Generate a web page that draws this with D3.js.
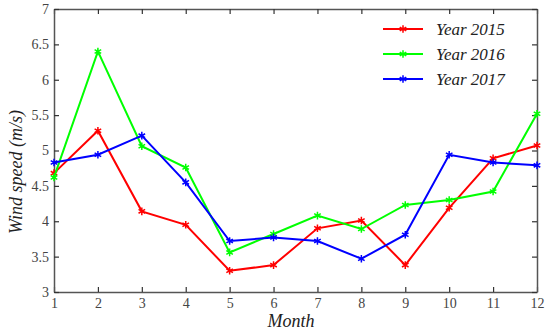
<!DOCTYPE html>
<head>
  <meta charset="utf-8">
  <script src="https://d3js.org/d3.v7.min.js"></script>
  <style>
    body { margin:0; background:#fff; }
    .tick text { font-family: "Liberation Serif", "Times New Roman", Times, "DejaVu Serif", serif; font-size:14px; fill:#444; }
    .lbl { font-family: "Liberation Serif", "Times New Roman", Times, "DejaVu Serif", serif; font-style:italic; fill:#222; }
  </style>
</head>
<body>
<script>
  // data
  var months = [1,2,3,4,5,6,7,8,9,10,11,12];
  var y2015 = [4.68,5.28,4.14,3.95,3.30,3.38,3.90,4.01,3.38,4.19,4.89,5.07];
  var y2016 = [4.62,6.40,5.06,4.76,3.56,3.82,4.08,3.89,4.23,4.30,4.42,5.52];
  var y2017 = [4.83,4.94,5.21,4.55,3.72,3.77,3.72,3.47,3.81,4.94,4.83,4.79];
  var names = ["Year 2015","Year 2016","Year 2017"];
  var colors = ["#ff0000","#00ff00","#0000ff"];
  var yTicks = [3,3.5,4,4.5,5,5.5,6,6.5,7];

  var series = [y2015, y2016, y2017];

  var margin = {top: 9, right: 13, bottom: 42, left: 54};
  var W = 550, H = 334;
  var width = W - margin.left - margin.right,
      height = H - margin.top - margin.bottom;

  var svg = d3.select("body").append("svg")
    .attr("width", W).attr("height", H)
   .append("g")
    .attr("transform", "translate(" + margin.left + "," + margin.top + ")");

  var x = d3.scaleLinear().domain([1,12]).range([0, width]);
  var y = d3.scaleLinear().domain([3,7]).range([height, 0]);

  var axisColor = "#555";
  function styleAxis(g, noText) {
    g.attr("font-family", null).attr("font-size", null);
    g.select(".domain").attr("stroke", axisColor).attr("stroke-width", 1.5);
    g.selectAll(".tick line").attr("stroke", "#333").attr("stroke-width", 1.2);
    if (noText) g.selectAll(".tick text").remove();
  }

  // bottom / top
  svg.append("g").attr("transform", "translate(0," + height + ")")
    .call(d3.axisBottom(x).tickValues(months).tickFormat(d3.format("d")).tickSizeInner(-5).tickSizeOuter(0).tickPadding(6))
    .call(styleAxis);
  svg.append("g")
    .call(d3.axisTop(x).tickValues(months).tickSizeInner(-5).tickSizeOuter(0))
    .call(function(g) { styleAxis(g, true); });
  // left / right
  svg.append("g")
    .call(d3.axisLeft(y).tickValues(yTicks).tickFormat(d3.format("")).tickSizeInner(-5).tickSizeOuter(0).tickPadding(5))
    .call(styleAxis);
  svg.append("g").attr("transform", "translate(" + width + ",0)")
    .call(d3.axisRight(y).tickValues(yTicks).tickSizeInner(-5).tickSizeOuter(0))
    .call(function(g) { styleAxis(g, true); });
  svg.selectAll(".domain").attr("fill", "none");

  var line = d3.line()
    .x(function(d, i) { return x(months[i]); })
    .y(function(d) { return y(d); });

  var star = d3.symbol().type(d3.symbolAsterisk).size(40);

  series.forEach(function(s, k) {
    svg.append("path")
      .attr("d", line(s))
      .attr("fill", "none")
      .attr("stroke", colors[k])
      .attr("stroke-width", 2);
    svg.selectAll(".m" + k).data(s).enter()
      .append("path")
      .attr("class", "m" + k)
      .attr("transform", function(d, i) { return "translate(" + x(months[i]) + "," + y(d) + ")"; })
      .attr("d", star)
      .attr("fill", "none")
      .attr("stroke", colors[k])
      .attr("stroke-width", 1.5);
  });

  // legend
  var legend = svg.selectAll(".legend").data(names).enter()
    .append("g")
    .attr("class", "legend")
    .attr("transform", function(d, i) { return "translate(" + (383 - margin.left) + "," + (29 + i * 25 - margin.top) + ")"; });
  legend.append("line")
    .attr("x1", 0).attr("x2", 40)
    .attr("stroke", function(d, i) { return colors[i]; })
    .attr("stroke-width", 2);
  legend.append("path")
    .attr("transform", "translate(20,0)")
    .attr("d", star)
    .attr("fill", "none")
    .attr("stroke", function(d, i) { return colors[i]; })
    .attr("stroke-width", 1.5);
  legend.append("text")
    .attr("class", "lbl")
    .attr("x", 53).attr("y", 6)
    .attr("font-size", 17)
    .text(function(d) { return d; });

  // axis titles
  svg.append("text")
    .attr("class", "lbl")
    .attr("font-size", 18)
    .attr("text-anchor", "middle")
    .attr("x", 291 - margin.left).attr("y", 327 - margin.top)
    .text("Month");
  svg.append("text")
    .attr("class", "lbl")
    .attr("font-size", 18)
    .attr("text-anchor", "middle")
    .attr("transform", "translate(" + (22 - margin.left) + "," + (172 - margin.top) + ") rotate(-90)")
    .text("Wind speed (m/s)");
</script>
</body>
